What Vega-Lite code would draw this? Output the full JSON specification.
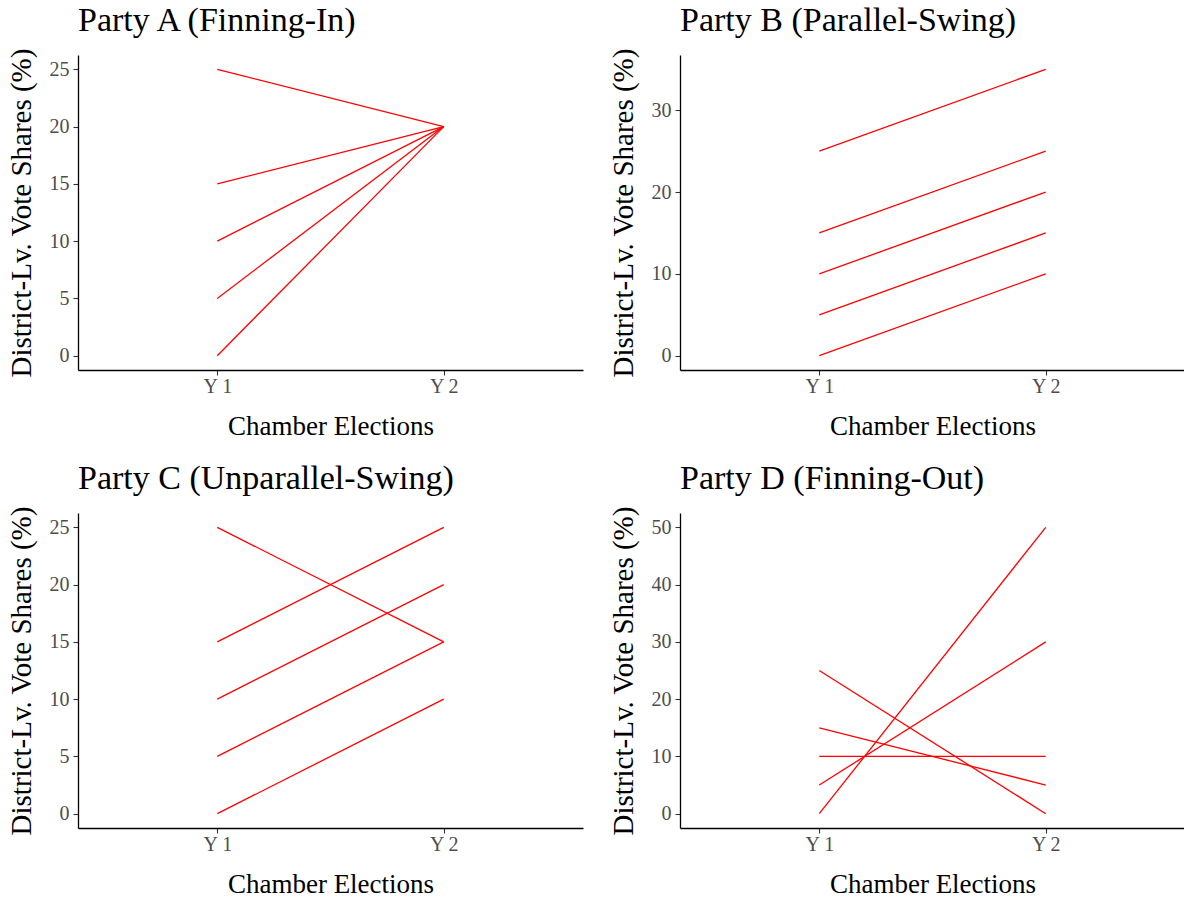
{
  "$schema": "https://vega.github.io/schema/vega-lite/v6.json",
  "padding": {"left": 7, "top": 3, "right": 0, "bottom": 0},
  "background": "white",
  "data": {"values": [
    {"panel": "A", "district": 1, "election": "Y 1", "share": 25},
    {"panel": "A", "district": 1, "election": "Y 2", "share": 20},
    {"panel": "A", "district": 2, "election": "Y 1", "share": 15},
    {"panel": "A", "district": 2, "election": "Y 2", "share": 20},
    {"panel": "A", "district": 3, "election": "Y 1", "share": 10},
    {"panel": "A", "district": 3, "election": "Y 2", "share": 20},
    {"panel": "A", "district": 4, "election": "Y 1", "share": 5},
    {"panel": "A", "district": 4, "election": "Y 2", "share": 20},
    {"panel": "A", "district": 5, "election": "Y 1", "share": 0},
    {"panel": "A", "district": 5, "election": "Y 2", "share": 20},
    {"panel": "B", "district": 1, "election": "Y 1", "share": 25},
    {"panel": "B", "district": 1, "election": "Y 2", "share": 35},
    {"panel": "B", "district": 2, "election": "Y 1", "share": 15},
    {"panel": "B", "district": 2, "election": "Y 2", "share": 25},
    {"panel": "B", "district": 3, "election": "Y 1", "share": 10},
    {"panel": "B", "district": 3, "election": "Y 2", "share": 20},
    {"panel": "B", "district": 4, "election": "Y 1", "share": 5},
    {"panel": "B", "district": 4, "election": "Y 2", "share": 15},
    {"panel": "B", "district": 5, "election": "Y 1", "share": 0},
    {"panel": "B", "district": 5, "election": "Y 2", "share": 10},
    {"panel": "C", "district": 1, "election": "Y 1", "share": 25},
    {"panel": "C", "district": 1, "election": "Y 2", "share": 15},
    {"panel": "C", "district": 2, "election": "Y 1", "share": 15},
    {"panel": "C", "district": 2, "election": "Y 2", "share": 25},
    {"panel": "C", "district": 3, "election": "Y 1", "share": 10},
    {"panel": "C", "district": 3, "election": "Y 2", "share": 20},
    {"panel": "C", "district": 4, "election": "Y 1", "share": 5},
    {"panel": "C", "district": 4, "election": "Y 2", "share": 15},
    {"panel": "C", "district": 5, "election": "Y 1", "share": 0},
    {"panel": "C", "district": 5, "election": "Y 2", "share": 10},
    {"panel": "D", "district": 1, "election": "Y 1", "share": 25},
    {"panel": "D", "district": 1, "election": "Y 2", "share": 0},
    {"panel": "D", "district": 2, "election": "Y 1", "share": 15},
    {"panel": "D", "district": 2, "election": "Y 2", "share": 5},
    {"panel": "D", "district": 3, "election": "Y 1", "share": 10},
    {"panel": "D", "district": 3, "election": "Y 2", "share": 10},
    {"panel": "D", "district": 4, "election": "Y 1", "share": 5},
    {"panel": "D", "district": 4, "election": "Y 2", "share": 30},
    {"panel": "D", "district": 5, "election": "Y 1", "share": 0},
    {"panel": "D", "district": 5, "election": "Y 2", "share": 50}
  ]},
  "columns": 2,
  "spacing": {"row": 22, "column": 26},
  "concat": [
    {
      "title": "Party A (Finning-In)",
      "width": 505, "height": 315,
      "transform": [{"filter": "datum.panel === 'A'"}],
      "mark": {"type": "line", "color": "#ff0000", "strokeWidth": 1.3},
      "encoding": {
        "x": {"field": "election", "type": "nominal", "scale": {"type": "point", "padding": 0.615}, "axis": {"title": "Chamber Elections", "labelAngle": 0}},
        "y": {"field": "share", "type": "quantitative", "scale": {"domain": [-1.25, 26.25], "nice": false, "zero": false}, "axis": {"values": [0, 5, 10, 15, 20, 25], "title": "District-Lv. Vote Shares (%)"}},
        "detail": {"field": "district", "type": "nominal"}
      }
    },
    {
      "title": "Party B (Parallel-Swing)",
      "width": 505, "height": 315,
      "transform": [{"filter": "datum.panel === 'B'"}],
      "mark": {"type": "line", "color": "#ff0000", "strokeWidth": 1.3},
      "encoding": {
        "x": {"field": "election", "type": "nominal", "scale": {"type": "point", "padding": 0.615}, "axis": {"title": "Chamber Elections", "labelAngle": 0}},
        "y": {"field": "share", "type": "quantitative", "scale": {"domain": [-1.75, 36.75], "nice": false, "zero": false}, "axis": {"values": [0, 10, 20, 30], "title": "District-Lv. Vote Shares (%)"}},
        "detail": {"field": "district", "type": "nominal"}
      }
    },
    {
      "title": "Party C (Unparallel-Swing)",
      "width": 505, "height": 315,
      "transform": [{"filter": "datum.panel === 'C'"}],
      "mark": {"type": "line", "color": "#ff0000", "strokeWidth": 1.3},
      "encoding": {
        "x": {"field": "election", "type": "nominal", "scale": {"type": "point", "padding": 0.615}, "axis": {"title": "Chamber Elections", "labelAngle": 0}},
        "y": {"field": "share", "type": "quantitative", "scale": {"domain": [-1.25, 26.25], "nice": false, "zero": false}, "axis": {"values": [0, 5, 10, 15, 20, 25], "title": "District-Lv. Vote Shares (%)"}},
        "detail": {"field": "district", "type": "nominal"}
      }
    },
    {
      "title": "Party D (Finning-Out)",
      "width": 505, "height": 315,
      "transform": [{"filter": "datum.panel === 'D'"}],
      "mark": {"type": "line", "color": "#ff0000", "strokeWidth": 1.3},
      "encoding": {
        "x": {"field": "election", "type": "nominal", "scale": {"type": "point", "padding": 0.615}, "axis": {"title": "Chamber Elections", "labelAngle": 0}},
        "y": {"field": "share", "type": "quantitative", "scale": {"domain": [-2.5, 52.5], "nice": false, "zero": false}, "axis": {"values": [0, 10, 20, 30, 40, 50], "title": "District-Lv. Vote Shares (%)"}},
        "detail": {"field": "district", "type": "nominal"}
      }
    }
  ],
  "config": {
    "view": {"stroke": null},
    "font": "Liberation Serif",
    "axis": {
      "grid": false,
      "domainColor": "#000000",
      "domainWidth": 1.3,
      "tickColor": "#333333",
      "tickSize": 5,
      "tickWidth": 1.1,
      "labelColor": "#4d4d4d",
      "labelFont": "Liberation Serif",
      "labelFontSize": 20,
      "titleFont": "Liberation Serif",
      "titleFontWeight": "normal",
      "titleColor": "#000000"
    },
    "axisX": {"titleFontSize": 27, "titlePadding": 17, "labelPadding": 1},
    "axisY": {"titleFontSize": 29, "titlePadding": 13, "labelPadding": 4},
    "title": {"font": "Liberation Serif", "fontSize": 34, "fontWeight": "normal", "color": "#000000", "anchor": "start", "frame": "group", "offset": 10}
  }
}
